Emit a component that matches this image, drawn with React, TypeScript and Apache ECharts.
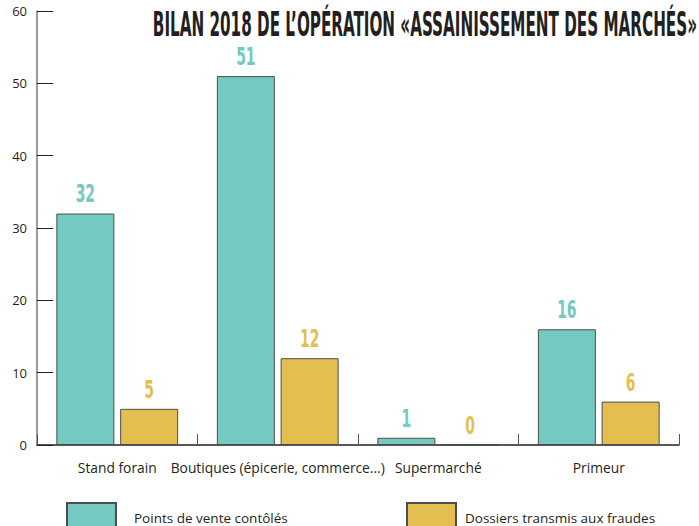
import React, { useEffect, useRef } from "react";
import * as echarts from "echarts";

const categories = ["Stand forain", "Boutiques (épicerie, commerce...)", "Supermarché", "Primeur"];
const pointsControles = [32, 51, 1, 16];
const dossiersTransmis = [5, 12, 0, 6];
const seriesNames = ["Points de vente contôlés", "Dossiers transmis aux fraudes"];
const titleText = "BILAN 2018 DE L’OPÉRATION «ASSAINISSEMENT DES MARCHÉS»";

const TEAL = "#74c9c0";
const YELLOW = "#e3bf52";
const COND_FONT = "'DejaVu Sans Condensed', 'Liberation Sans Narrow', sans-serif";
const TITLE_FONT_SIZE = 34;
const BAR_W = 58;
const BAR_GAP = 0.1;

function measure(text: string, font: string): number {
  const c = document.createElement("canvas");
  const ctx = c.getContext("2d");
  if (!ctx) return text.length * 18;
  ctx.font = font;
  return ctx.measureText(text).width;
}

function labelSeries(name: string, values: number[], color: string, dir: number) {
  return {
    name: name + "-labels",
    type: "custom",
    silent: true,
    clip: false,
    z: 5,
    data: values.map((v, i) => [i, v]),
    renderItem: (params: any, api: any) => {
      const idx = api.value(0);
      const val = api.value(1);
      const pt = api.coord([idx, val]);
      const off = ((BAR_W + BAR_W * BAR_GAP) / 2) * dir;
      return {
        type: "text",
        x: pt[0] + off,
        y: pt[1] - 7,
        scaleX: 0.62,
        style: {
          text: String(val),
          fontFamily: COND_FONT,
          fontSize: 25,
          fontWeight: "bold",
          fill: color,
          align: "center",
          verticalAlign: "bottom",
        },
      };
    },
  };
}

export default function App() {
  const ref = useRef<HTMLDivElement>(null);
  useEffect(() => {
    if (!ref.current) return;
    const chart = echarts.init(ref.current, null, { renderer: "svg" });
    const w = measure(titleText, `bold ${TITLE_FONT_SIZE}px ${COND_FONT}`);
    const scaleX = 545 / w;
    const legendText = { fontFamily: "'Open Sans', sans-serif", fontSize: 13.5, color: "#231f20" };
    chart.setOption({
      animation: false,
      backgroundColor: "#ffffff",
      graphic: [
        {
          type: "text",
          x: 697,
          y: 7,
          scaleX: scaleX,
          style: {
            text: titleText,
            fontFamily: COND_FONT,
            fontSize: TITLE_FONT_SIZE,
            fontWeight: "bold",
            fill: "#231f20",
            align: "right",
            verticalAlign: "top",
          },
        },
      ],
      grid: { left: 37, right: 20, top: 11, bottom: 81, containLabel: false },
      legend: [
        {
          data: [seriesNames[0]],
          left: 66,
          top: 502,
          padding: 0,
          itemWidth: 49,
          itemHeight: 30,
          icon: "rect",
          textStyle: { ...legendText, padding: [0, 0, 0, 13] },
        },
        {
          data: [seriesNames[1]],
          left: 406,
          top: 502,
          padding: 0,
          itemWidth: 49,
          itemHeight: 30,
          icon: "rect",
          textStyle: { ...legendText, padding: [0, 0, 0, 4] },
        },
      ],
      xAxis: {
        type: "category",
        data: categories,
        boundaryGap: true,
        axisLine: { show: true, lineStyle: { color: "#231f20", width: 1.5 } },
        axisTick: { show: true, inside: true, length: 11, alignWithLabel: false, lineStyle: { color: "#555", width: 1 } },
        axisLabel: {
          interval: 0,
          margin: 15,
          fontFamily: "'Open Sans', sans-serif",
          fontSize: 13.8,
          color: "#231f20",
        },
      },
      yAxis: {
        type: "value",
        min: 0,
        max: 60,
        interval: 10,
        splitLine: { show: false },
        axisLine: { show: true, lineStyle: { color: "#777", width: 1.5 } },
        axisTick: { show: true, inside: true, length: 16, lineStyle: { color: "#231f20", width: 1 } },
        axisLabel: {
          margin: 10,
          padding: [13, 0, 0, 0],
          fontFamily: "'Open Sans', sans-serif",
          fontSize: 13,
          color: "#231f20",
        },
      },
      series: [
        {
          name: seriesNames[0],
          type: "bar",
          data: pointsControles,
          barWidth: BAR_W,
          barGap: BAR_GAP * 100 + "%",
          itemStyle: { color: TEAL, borderColor: "#4d4d4d", borderWidth: 1 },
        },
        {
          name: seriesNames[1],
          type: "bar",
          data: dossiersTransmis,
          barWidth: BAR_W,
          barGap: BAR_GAP * 100 + "%",
          itemStyle: { color: YELLOW, borderColor: "#4d4d4d", borderWidth: 1 },
        },
        labelSeries(seriesNames[0], pointsControles, TEAL, -1),
        labelSeries(seriesNames[1], dossiersTransmis, YELLOW, 1),
      ],
    });
    return () => chart.dispose();
  }, []);
  return <div ref={ref} style={{ width: 699, height: 526, position: "absolute", left: 0, top: 0 }} />;
}
